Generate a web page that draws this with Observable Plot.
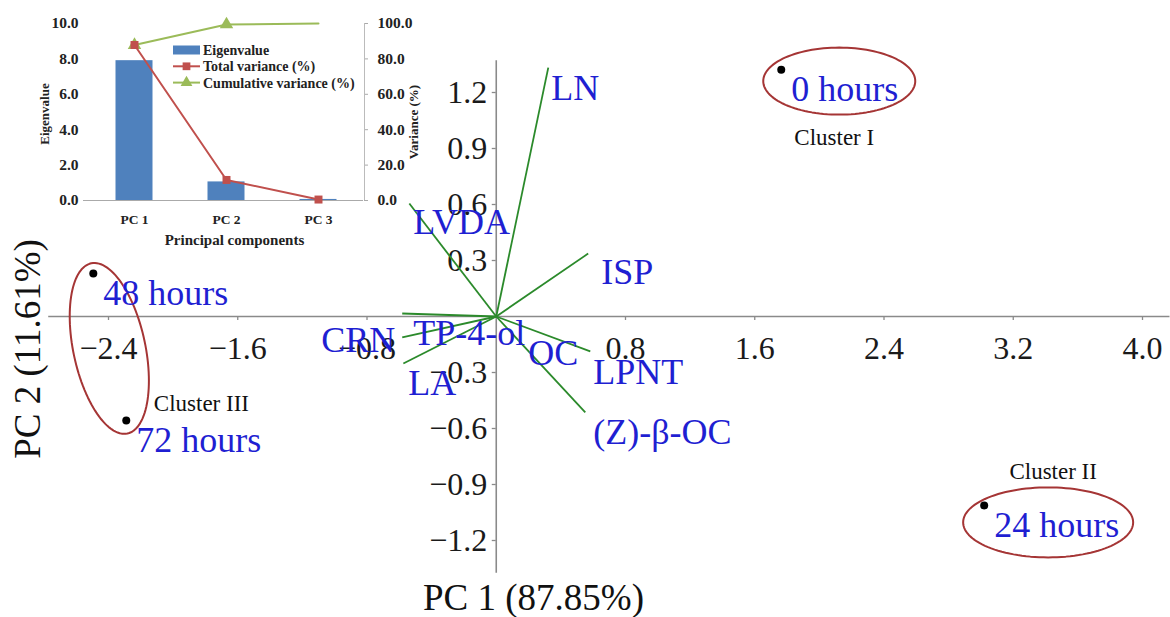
<!DOCTYPE html>
<html><head><meta charset="utf-8">
<script src="https://cdn.jsdelivr.net/npm/d3@7"></script>
<script src="https://cdn.jsdelivr.net/npm/@observablehq/plot@0.6"></script>
<style>
body{margin:0;background:#fff;}
#wrap{position:relative;width:1170px;height:617px;overflow:hidden;background:#fff;}
#main,#inset,#legend{position:absolute;left:0;top:0;}
</style></head><body>
<div id="wrap"><div id="main"></div><div id="inset"></div><svg id="legend" width="430" height="100"></svg></div>
<script>
// ---------- data ----------
const sampleNames = ["0 hours", "24 hours", "48 hours", "72 hours"];
const pc1Scores = [1.764, 3.020, -2.494, -2.290];
const pc2Scores = [1.322, -1.012, 0.230, -0.557];

const variableNames = ["LN", "LVDA", "ISP", "TP-4-ol", "CRN", "LA", "LPNT", "(Z)-β-OC"];
const pc1Loadings = [0.322, -0.538, 0.569, -0.582, -0.582, -0.575, 0.582, 0.551];
const pc2Loadings = [1.333, 0.605, 0.337, 0.016, -0.112, -0.252, -0.187, -0.514];

const variableLabels = ["LN", "LVDA", "ISP", "TP-4-ol", "CRN", "OC", "LA", "LPNT", "(Z)-β-OC"];
const labelPc1 = [0.340, -0.514, 0.650, -0.514, -1.083, 0.198, -0.545, 0.600, 0.600];
const labelPc2 = [1.221, 0.503, 0.236, -0.091, -0.128, -0.198, -0.359, -0.300, -0.621];

const clusterNames = ["Cluster I", "Cluster II", "Cluster III"];
const clusterPc1 = [2.092, 3.447, -1.825];
const clusterPc2 = [0.957, -0.830, -0.466];

const xTicks = [-2.4, -1.6, -0.8, 0.8, 1.6, 2.4, 3.2, 4.0];
const yTicks = [1.2, 0.9, 0.6, 0.3, -0.3, -0.6, -0.9, -1.2];

const components = ["PC 1", "PC 2", "PC 3"];
const eigenvalues = [7.9, 1.05, 0.06];
const totalVariance = [87.85, 11.61, 0.54];
const cumulativeVariance = [87.85, 99.46, 100];
const insetYTicks = [0, 2, 4, 6, 8, 10];

const legendNames = ["Eigenvalue", "Total variance (%)", "Cumulative variance (%)"];

// ---------- layout / style ----------
const X_DOMAIN = [-2.4, 4.0], X_RANGE = [108, 1142];
const Y_DOMAIN = [-1.2, 1.2], Y_RANGE = [540, 92];
const kx = (X_RANGE[1] - X_RANGE[0]) / (X_DOMAIN[1] - X_DOMAIN[0]);
const ky = (Y_RANGE[0] - Y_RANGE[1]) / (Y_DOMAIN[1] - Y_DOMAIN[0]);
const AXIS_X = [-2.77, 4.17], AXIS_Y = [-1.376, 1.37];
const BLUE = "#1f1fd2", GREEN = "#2b8a2b", RED_E = "#a53535", GRAY = "#8a8a8a";
const FONT = "'Liberation Serif', 'Times New Roman', serif";

// cluster ellipses: centre (data units), semi-axes (px), rotation (deg)
const ellipseSpecs = [
  {cx: 2.123, cy: 1.261, a: 76, b: 33.5, angle: 0},
  {cx: 3.416, cy: -1.103, a: 85, b: 35, angle: 0},
  {cx: -2.395, cy: -0.171, a: 36, b: 87, angle: -12}
];

const scores = sampleNames.map((n, i) => ({name: n, x: pc1Scores[i], y: pc2Scores[i]}));
const loadings = variableNames.map((n, i) => ({name: n, x: pc1Loadings[i], y: pc2Loadings[i]}));
const varLabels = variableLabels.map((n, i) => ({name: n, x: labelPc1[i], y: labelPc2[i]}));
const clusters = clusterNames.map((n, i) => ({name: n, x: clusterPc1[i], y: clusterPc2[i]}));

const ellipsePts = [];
ellipseSpecs.forEach((e, k) => {
  const th = e.angle * Math.PI / 180;
  for (let j = 0; j < 120; j++) {
    const t = j / 120 * 2 * Math.PI;
    const px = e.a * Math.cos(t), py = e.b * Math.sin(t);
    const rx = px * Math.cos(th) - py * Math.sin(th);
    const ry = px * Math.sin(th) + py * Math.cos(th);
    ellipsePts.push({id: k, x: e.cx + rx / kx, y: e.cy - ry / ky});
  }
});

const fmt = d => (d < 0 ? "−" : "") + Math.abs(d).toFixed(1);

const main = Plot.plot({
  width: 1170, height: 617, margin: 0,
  x: {domain: X_DOMAIN, range: X_RANGE, axis: null},
  y: {domain: Y_DOMAIN, range: Y_RANGE, axis: null},
  style: {fontFamily: FONT, background: "transparent", overflow: "visible"},
  marks: [
    Plot.ruleY([0], {x1: AXIS_X[0], x2: AXIS_X[1], stroke: GRAY, strokeWidth: 1.6}),
    Plot.ruleX([0], {y1: AXIS_Y[0], y2: AXIS_Y[1], stroke: GRAY, strokeWidth: 1.6}),
    Plot.ruleX(xTicks, {x: d => d, y1: 0, y2: -4 / ky, stroke: GRAY, strokeWidth: 1.3}),
    Plot.ruleY(yTicks, {y: d => d, x1: -4 / kx, x2: 0, stroke: GRAY, strokeWidth: 1.3}),
    Plot.text(xTicks, {x: d => d, y: 0, dy: 32, text: fmt, fontSize: 32, fill: "#1a1a1a"}),
    Plot.text(yTicks, {x: 0, y: d => d, dx: -9, textAnchor: "end", text: fmt, fontSize: 32, fill: "#1a1a1a"}),
    Plot.link(loadings, {x1: 0, y1: 0, x2: "x", y2: "y", stroke: GREEN, strokeWidth: 1.8}),
    Plot.text(varLabels, {x: "x", y: "y", text: "name", textAnchor: "start", fill: BLUE, fontSize: 36}),
    Plot.line(ellipsePts, {x: "x", y: "y", z: "id", stroke: RED_E, strokeWidth: 2, curve: "linear-closed"}),
    Plot.dot(scores, {x: "x", y: "y", r: 4, fill: "#000"}),
    Plot.text(scores, {x: "x", y: "y", text: "name", dx: 10, dy: 20, textAnchor: "start", fill: BLUE, fontSize: 36}),
    Plot.text(clusters, {x: "x", y: "y", text: "name", fontSize: 23, fill: "#111"}),
    Plot.text(["PC 1 (87.85%)"], {frameAnchor: "bottom", textAnchor: "middle", lineAnchor: "middle", dx: -52, dy: -19, fontSize: 37, fill: "#111"}),
    Plot.text(["PC 2 (11.61%)"], {frameAnchor: "left", textAnchor: "middle", lineAnchor: "middle", dx: 28, dy: 40, rotate: -90, fontSize: 37, fill: "#111"})
  ]
});
document.getElementById("main").appendChild(main);

// ---------- inset ----------
const inset = components.map((c, i) => ({pc: c, eig: eigenvalues[i], total: totalVariance[i], cum: cumulativeVariance[i]}));
const C_BAR = "#4f81bd", C_RED = "#c0504d", C_GREEN = "#9bbb59";
const insetPlot = Plot.plot({
  width: 430, height: 250, marginLeft: 83, marginRight: 67, marginTop: 23, marginBottom: 50,
  x: {type: "band", domain: components, range: [87, 364], padding: 0},
  y: {domain: [0, 10], range: [200, 23]},
  style: {fontFamily: FONT, fontWeight: "bold", fontSize: "14px", background: "transparent", color: "#222"},
  marks: [
    Plot.barY(inset, {x: "pc", y: "eig", fill: C_BAR, insetLeft: 27.5, insetRight: 27.5}),
    Plot.ruleY([0], {stroke: "#aaa", strokeWidth: 1.2}),
    Plot.axisY(insetYTicks, {anchor: "left", tickSize: 0, tickPadding: 5, tickFormat: d => d.toFixed(1), label: null, fontSize: 15.5}),
    Plot.axisY(insetYTicks, {anchor: "right", tickSize: 4, tickPadding: 10, tickFormat: d => (d * 10).toFixed(1), label: null, fontSize: 15.5, stroke: "#aaa"}),
    Plot.ruleX([components[2]], {dx: 46, y1: 0, y2: 10, stroke: "#bbb"}),
    Plot.axisX({anchor: "bottom", tickSize: 0, tickPadding: 14, label: null, fontSize: 13.5}),
    Plot.line(inset, {x: "pc", y: d => d.cum / 10, stroke: C_GREEN, strokeWidth: 2}),
    Plot.dot(inset.filter(d => d.cum < 100), {x: "pc", y: d => d.cum / 10, symbol: "triangle", r: 5, fill: C_GREEN}),
    Plot.line(inset, {x: "pc", y: d => d.total / 10, stroke: C_RED, strokeWidth: 2}),
    Plot.dot(inset, {x: "pc", y: d => d.total / 10, symbol: "square", r: 4.5, fill: C_RED}),
    Plot.text(["Principal components"], {frameAnchor: "bottom", textAnchor: "middle", lineAnchor: "middle", dx: 11, dy: 40, fontSize: 15}),
    Plot.text(["Eigenvalue"], {frameAnchor: "left", textAnchor: "middle", lineAnchor: "middle", dx: -39, dy: 2, rotate: -90, fontSize: 13}),
    Plot.text(["Variance (%)"], {frameAnchor: "right", textAnchor: "middle", lineAnchor: "middle", dx: 50, dy: 10, rotate: -90, fontSize: 13})
  ]
});
document.getElementById("inset").appendChild(insetPlot);

// ---------- inset legend ----------
const lg = d3.select("#legend").style("font-family", FONT).style("font-weight", "bold").style("font-size", "14px");
const legendColors = [C_BAR, C_RED, C_GREEN];
legendNames.forEach((n, i) => {
  const y = 50 + i * 16.3;
  if (i === 0) {
    lg.append("rect").attr("x", 173).attr("y", y - 4.5).attr("width", 27).attr("height", 9).attr("fill", legendColors[i]);
  } else {
    lg.append("line").attr("x1", 173).attr("x2", 200).attr("y1", y).attr("y2", y).attr("stroke", legendColors[i]).attr("stroke-width", 2);
    const sym = i === 1 ? d3.symbolSquare : d3.symbolTriangle;
    lg.append("path").attr("d", d3.symbol(sym, 60)).attr("transform", `translate(186.5,${y})`).attr("fill", legendColors[i]);
  }
  lg.append("text").attr("x", 203).attr("y", y).attr("dy", "0.35em").attr("fill", "#222").text(n);
});
</script>
</body></html>
